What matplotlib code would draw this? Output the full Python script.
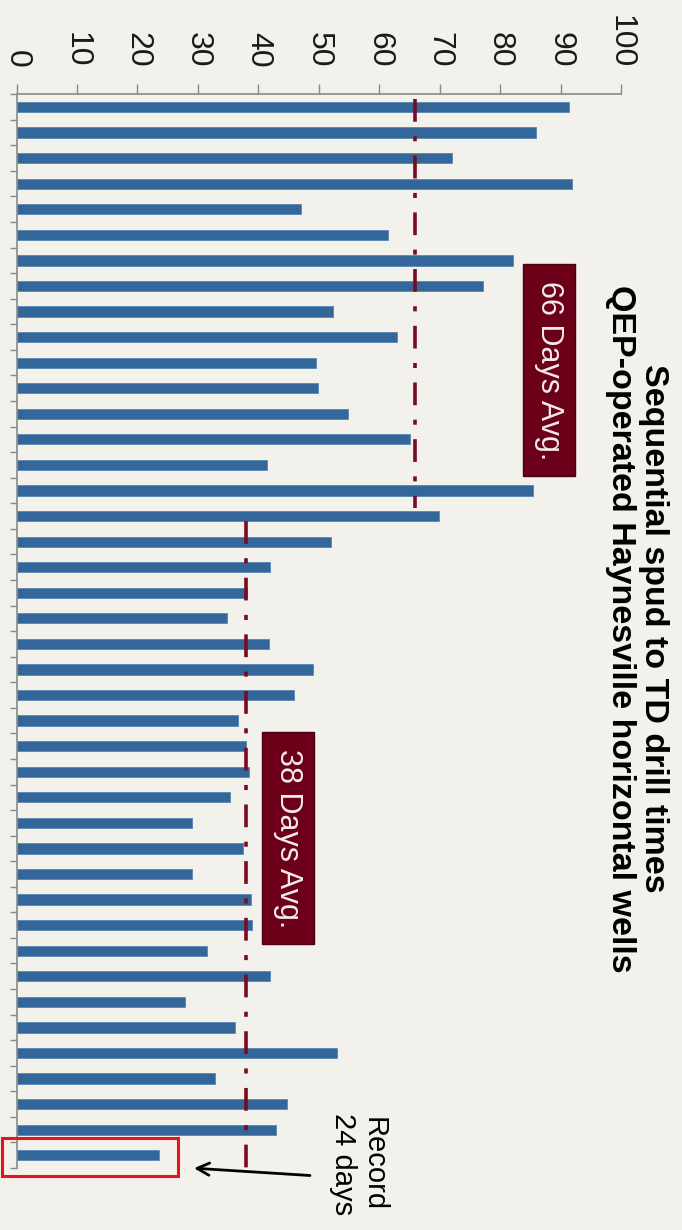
import numpy as np
import matplotlib
matplotlib.use("Agg")
import matplotlib.pyplot as plt
from matplotlib.patches import Rectangle

plt.rcParams['font.family'] = ['Liberation Sans', 'DejaVu Sans']

# ---- data ----
drill_days = [91.4, 86.0, 72.1, 91.9, 47.1, 61.4, 82.1, 77.1, 52.4, 62.9,
              49.6, 49.9, 54.9, 65.1, 41.5, 85.4, 69.9, 52.0, 42.0, 38.1,
              34.9, 41.7, 49.1, 45.9, 36.7, 38.0, 38.4, 35.3, 29.1, 37.5,
              29.0, 38.8, 38.9, 31.5, 41.9, 27.8, 36.2, 53.0, 32.8, 44.7,
              42.9, 23.5]
avg_early = 66
avg_late = 38
x_ticks = [0, 10, 20, 30, 40, 50, 60, 70, 80, 90, 100]
title_lines = ["Sequential spud to TD drill times",
               "QEP-operated Haynesville horizontal wells"]
box_labels = ["66 Days Avg.", "38 Days Avg."]
record_label = "Record\n24 days"

bg = '#F2F1EB'
bar_color = '#336699'
avg_color = '#7A0A22'
box_color = '#6B0018'

fig = plt.figure(figsize=(6.82, 12.30), dpi=100, facecolor=bg)
ax = fig.add_axes([0.0242, 0.0504, 0.8864, 0.873])
ax.set_facecolor('none')

n = len(drill_days)
idx = np.arange(n)
ax.barh(idx, drill_days, height=0.4, color=bar_color, edgecolor='#5b86b3', linewidth=0.6)

ax.set_xlim(0, 100)
ax.set_ylim(n - 0.5, -0.5)

# average lines
dash = (6.3, 4, 1.4, 4)
ax.plot([avg_early, avg_early], [-0.3, 15.7], color=avg_color, lw=2.6,
        dashes=dash, solid_capstyle='butt', dash_capstyle='butt')
ax.plot([avg_late, avg_late], [16.2, n - 0.5], color=avg_color, lw=2.6,
        dashes=dash, solid_capstyle='butt', dash_capstyle='butt')

# boxes
for (cx, cy), lab in zip([(88.1, 10.3), (44.9, 28.6)], box_labels):
    ax.add_patch(Rectangle((cx - 4.3, cy - 4.15), 8.6, 8.3, facecolor=box_color,
                           edgecolor='#4a0010', lw=1, zorder=4))
    ax.text(cx, cy, lab, rotation=-90, ha='center', va='center', color='#F3EAEA',
            fontsize=22, zorder=5)

# record highlight
ax.add_patch(Rectangle((-2.4, 40.33), 29.1, 1.49, facecolor='none', edgecolor='#E8141B',
                       lw=2.2, clip_on=False, zorder=6))
ax.annotate('', xy=(28.9, 41.5), xytext=(49.0, 41.8),
            arrowprops=dict(arrowstyle='->', color='black', lw=2, mutation_scale=22),
            annotation_clip=False)
ax.text(56.5, 41.35, record_label, rotation=-90, ha='center', va='center',
        fontsize=21, color='black', linespacing=1.1, multialignment='center')

# axes styling
ax.xaxis.tick_top()
ax.set_xticks(x_ticks)
ax.set_xticklabels([str(t) for t in x_ticks])
ax.tick_params(axis='x', top=True, bottom=False, length=7, width=1, color='#8a8a8a',
               labelsize=23, pad=12, labelrotation=-90, labelcolor='#1a1a1a')
ax.set_yticks([])
ax.set_yticks(np.arange(-0.5, n, 1.0), minor=True)
ax.tick_params(axis='y', which='minor', left=True, length=5, width=1, color='#8a8a8a')
for s in ['right', 'bottom']:
    ax.spines[s].set_visible(False)
for s in ['top', 'left']:
    ax.spines[s].set_color('#8a8a8a')
    ax.spines[s].set_linewidth(1.2)

fig.text(0.934, 0.489, "\n".join(title_lines), rotation=-90, ha='center', va='center',
         fontsize=24.5, fontweight='bold', multialignment='center', linespacing=1.05)

fig.savefig('out.png', dpi=100, facecolor=bg)
